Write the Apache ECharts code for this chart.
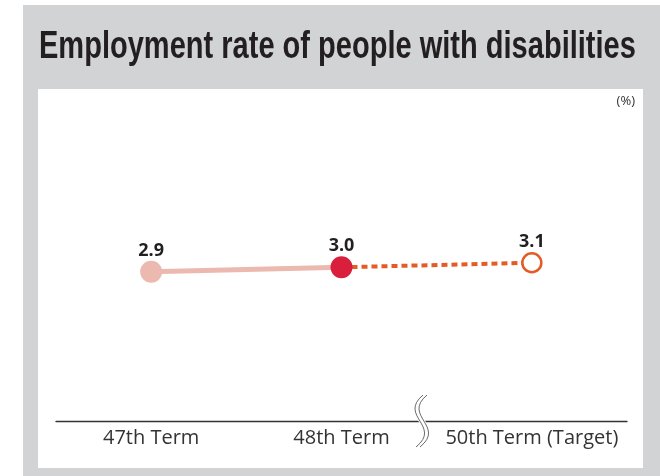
<!DOCTYPE html>
<html>
<head>
<meta charset="utf-8">
<script src="https://cdn.jsdelivr.net/npm/echarts@6/dist/echarts.min.js"></script>
<style>
  html, body { margin: 0; padding: 0; background: #fff; }
  #chart { width: 660px; height: 476px; }
</style>
</head>
<body>
<div id="chart"></div>
<script>
// terms on the x axis
const terms = ['47th Term', '48th Term', '50th Term (Target)'];
// employment rate (%)
const rates = [2.9, 3.0, 3.1];
// how many of the terms are actual results (rest is target)
const actualCount = 2;

const PINK = '#ebb9af';
const RED = '#da1f3d';
const ORANGE = '#e45b26';

const actual = rates.map((v, i) => (i < actualCount ? v : '-'));
const target = rates.map((v, i) => (i >= actualCount - 1 ? v : '-'));

const chart = echarts.init(document.getElementById('chart'));

chart.setOption({
  animation: false,
  title: {
    text: '(%)',
    right: 25,
    top: 95,
    padding: 0,
    textStyle: { fontFamily: 'Open Sans', fontSize: 13, fontWeight: 'normal', color: '#333' },
  },
  graphic: [
    // grey card + white plot panel
    { type: 'rect', z: -10, shape: { x: 23, y: 5, width: 637, height: 471 }, style: { fill: '#d1d3d4' } },
    { type: 'rect', z: -9, shape: { x: 38, y: 89, width: 605, height: 379 }, style: { fill: '#fff' } },
    // heading, squeezed to look like a condensed face
    {
      type: 'text', x: 39, y: 48, scaleX: 0.764, z: 10,
      style: {
        text: 'Employment rate of people with disabilities',
        font: 'bold 38px "Liberation Sans", Arial, sans-serif',
        fill: '#231f20',
        align: 'left',
        verticalAlign: 'middle',
      },
    },
    // axis break
    {
      type: 'bezierCurve', z: 50,
      shape: { x1: 425, y1: 395, cpx1: 400, cpy1: 416, cpx2: 444, cpy2: 426, x2: 418, y2: 447 },
      style: { stroke: '#fff', lineWidth: 6, fill: null },
    },
    {
      type: 'bezierCurve', z: 51,
      shape: { x1: 423, y1: 395, cpx1: 398, cpy1: 416, cpx2: 442, cpy2: 426, x2: 416, y2: 447 },
      style: { stroke: '#444', lineWidth: 0.8, fill: null },
    },
    {
      type: 'bezierCurve', z: 51,
      shape: { x1: 427, y1: 395, cpx1: 402, cpy1: 416, cpx2: 446, cpy2: 426, x2: 420, y2: 447 },
      style: { stroke: '#444', lineWidth: 0.8, fill: null },
    },
  ],
  grid: { left: 56, right: 33, top: 100, bottom: 55 },
  xAxis: {
    type: 'category',
    data: terms,
    boundaryGap: true,
    axisLine: { onZero: false, lineStyle: { color: '#333', width: 1.3 } },
    axisTick: { show: false },
    axisLabel: { interval: 0, fontFamily: 'Open Sans', fontSize: 20, color: '#333', margin: 7 },
  },
  yAxis: { type: 'value', min: -0.4, max: 6.7, show: false },
  series: [
    {
      name: 'target',
      type: 'line',
      z: 3,
      data: target.map((v, i) => ({
        value: v,
        symbol: 'circle',
        symbolSize: i === rates.length - 1 ? 19 : 0,
        itemStyle: { color: '#fff', borderColor: ORANGE, borderWidth: 2.5 },
        label: { show: i === rates.length - 1 },
      })),
      lineStyle: { color: ORANGE, width: 4, type: [6, 4] },
      label: {
        position: 'top', distance: 1,
        fontFamily: 'Open Sans', fontSize: 18, fontWeight: 'bold', color: '#231f20',
        formatter: (p) => p.value.toFixed(1),
      },
    },
    {
      name: 'actual',
      type: 'line',
      z: 4,
      data: actual.map((v, i) => ({
        value: v,
        symbol: 'circle',
        symbolSize: 22,
        itemStyle: { color: i === actualCount - 1 ? RED : PINK, borderWidth: 0 },
      })),
      lineStyle: { color: PINK, width: 5 },
      label: {
        show: true, position: 'top', distance: 1,
        fontFamily: 'Open Sans', fontSize: 18, fontWeight: 'bold', color: '#231f20',
        formatter: (p) => p.value.toFixed(1),
      },
    },
  ],
});
</script>
</body>
</html>
